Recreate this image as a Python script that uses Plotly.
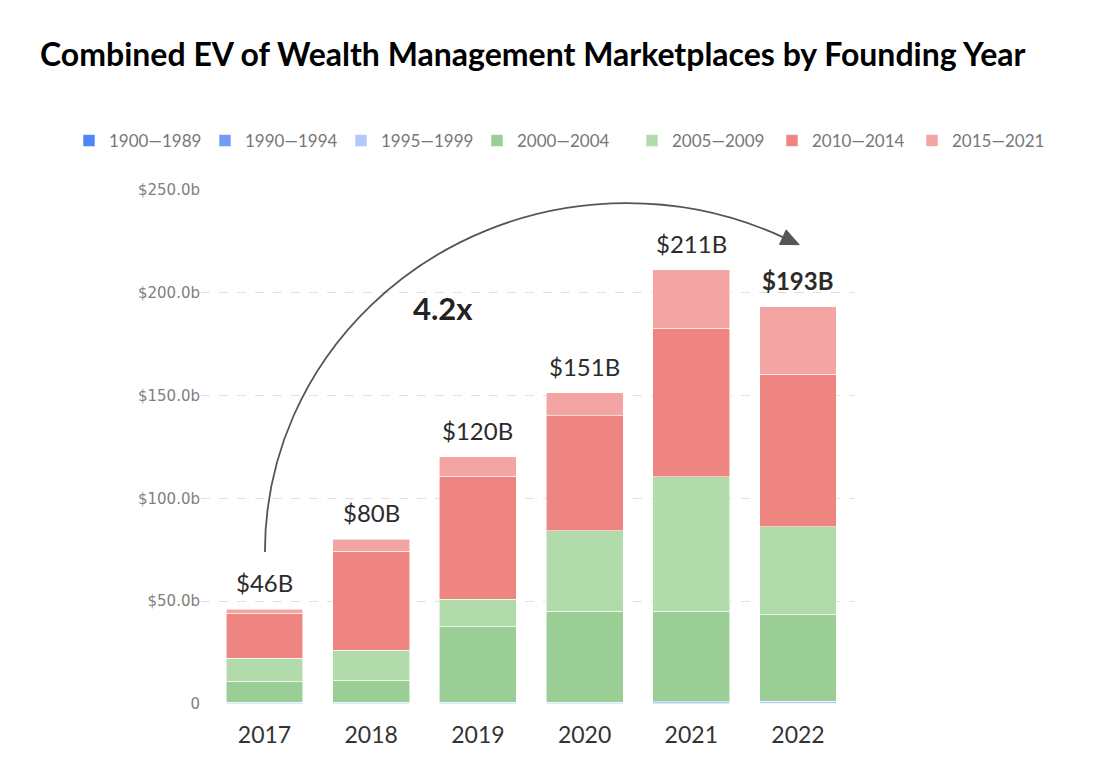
import math
import plotly.graph_objects as go

# ---------------- data ----------------
years = ["2017", "2018", "2019", "2020", "2021", "2022"]
cohorts = ["1900—1989", "1990—1994", "1995—1999", "2000—2004",
           "2005—2009", "2010—2014", "2015—2021"]
v_1900_1989 = [0.1, 0.1, 0.1, 0.1, 0.1, 0.2]
v_1990_1994 = [0.1, 0.1, 0.1, 0.1, 0.1, 0.2]
v_1995_1999 = [0.6, 0.6, 0.7, 0.7, 0.8, 0.9]
v_2000_2004 = [10.3, 10.7, 37.0, 44.1, 44.2, 42.3]
v_2005_2009 = [11.2, 14.6, 13.1, 39.2, 65.4, 42.5]
v_2010_2014 = [21.9, 48.1, 59.8, 55.9, 72.1, 74.2]
v_2015_2021 = [1.9, 6.0, 9.5, 11.2, 28.6, 33.0]
colors = ["#4f86f7", "#709cf7", "#b0c8fb", "#9bce94",
          "#b2dbac", "#ef8581", "#f2a5a3"]
y_tickvals = [0, 50, 100, 150, 200, 250]
y_ticktext = ["0", "$50.0b", "$100.0b", "$150.0b", "$200.0b", "$250.0b"]

series = [v_1900_1989, v_1990_1994, v_1995_1999, v_2000_2004,
          v_2005_2009, v_2010_2014, v_2015_2021]
totals = [sum(col) for col in zip(*series)]

W_FIG, H_FIG = 1120, 782
OFF = 8  # page body margin compensation

# ---------------- figure ----------------
fig = go.Figure()
for i, (name, vals, col) in enumerate(zip(cohorts, series, colors)):
    fig.add_trace(go.Bar(
        x=years, y=vals, name=name, width=0.72,
        legend="legend" if i < 4 else "legend2",
        marker=dict(color=col, line=dict(color="rgba(255,255,255,0.7)", width=0.8)),
    ))

# total labels above bars
for i, tot in enumerate(totals):
    last = i == len(totals) - 1
    txt = f"${round(tot)}B"
    fig.add_annotation(
        x=i, y=tot, xref="x", yref="y",
        text=f"<b>{txt}</b>" if last else txt,
        showarrow=False, yanchor="bottom", yshift=10,
        font=dict(family="Lato", size=24, color="#2b2b2b"),
    )

# growth multiple
growth = totals[-1] / totals[0]
fig.add_annotation(
    x=1.67, y=192.6, xref="x", yref="y", text=f"<b>{growth:.1f}x</b>",
    showarrow=False, font=dict(family="Lato", size=31, color="#222222"),
)

# curved arrow (elliptical arc) from 2017 to 2022, in data units
PXX, PXY = 106.7, 2.056  # px per category, px per unit (for arrowhead shape)
cx, cy, a, b = 3.397, 73.9, 3.393, 169.7
th_end = math.radians(64.5)
k1 = 4 / 3 * math.tan(math.radians(90) / 4)
k2 = 4 / 3 * math.tan((math.radians(90) - th_end) / 4)
P0 = (cx - a, cy)
C1 = (cx - a, cy + k1 * b)
C2 = (cx - k1 * a, cy + b)
P3 = (cx, cy + b)
D1 = (cx + k2 * a, cy + b)
E = (cx + a * math.cos(th_end), cy + b * math.sin(th_end))
tan_e = (a * math.sin(th_end), -b * math.cos(th_end))
D2 = (E[0] - k2 * tan_e[0], E[1] - k2 * tan_e[1])
fmt = lambda p: f"{p[0]:.4f},{p[1]:.4f}"
path = (f"M {fmt(P0)} C {fmt(C1)} {fmt(C2)} {fmt(P3)} "
        f"C {fmt(D1)} {fmt(D2)} {fmt(E)}")
fig.add_shape(type="path", path=path, xref="x", yref="y",
              line=dict(color="#555555", width=1.8), layer="above")
# arrowhead
dx_px, dy_px = tan_e[0] * PXX, tan_e[1] * PXY
n = math.hypot(dx_px, dy_px)
ux, uy = dx_px / n, dy_px / n
L, W = 18, 8
tip = (E[0] + L * ux / PXX, E[1] + L * uy / PXY)
b1 = (E[0] - W * uy / PXX, E[1] + W * ux / PXY)
b2 = (E[0] + W * uy / PXX, E[1] - W * ux / PXY)
fig.add_shape(type="path", path=f"M {fmt(tip)} L {fmt(b1)} L {fmt(b2)} Z",
              xref="x", yref="y", fillcolor="#555555",
              line=dict(color="#555555", width=1), layer="above")

legend_common = dict(
    orientation="h", xref="container", yref="container",
    xanchor="left", y=1 - (141 - OFF) / H_FIG, yanchor="middle",
    font=dict(family="Lato", size=17, color="#777777"),
    traceorder="normal", itemclick=False, bgcolor="rgba(0,0,0,0)",
)

fig.update_layout(
    barmode="stack",
    width=W_FIG, height=H_FIG,
    margin=dict(l=201 - OFF, r=W_FIG - 855 + OFF, t=190 - OFF, b=H_FIG - 704 + OFF),
    paper_bgcolor="white", plot_bgcolor="white",
    title=dict(
        text="<b>Combined EV of Wealth Management Marketplaces by Founding Year</b>",
        x=(40 - OFF) / W_FIG, xanchor="left",
        y=1 - (55 - OFF) / H_FIG, yanchor="middle",
        font=dict(family="Lato", size=32, color="#000000"),
    ),
    legend=dict(legend_common, x=(69 - OFF) / W_FIG, entrywidth=91),
    legend2=dict(legend_common, x=(632 - OFF) / W_FIG, entrywidth=95),
    xaxis=dict(
        type="category", range=[-0.595, 5.534],
        showgrid=False, zeroline=False, showline=False,
        ticks="", ticklabelstandoff=15,
        tickfont=dict(family="Lato", size=23, color="#333333"),
    ),
    yaxis=dict(
        range=[0, 250], tickvals=y_tickvals, ticktext=y_ticktext,
        showgrid=True, gridcolor="#e0e0e0", griddash="dash", gridwidth=1,
        zeroline=False, showline=False, ticks="",
        tickfont=dict(family="DejaVu Sans", size=15, color="#808080"),
    ),
    showlegend=True,
)

fig.write_html("out.html", config={"displayModeBar": False})
